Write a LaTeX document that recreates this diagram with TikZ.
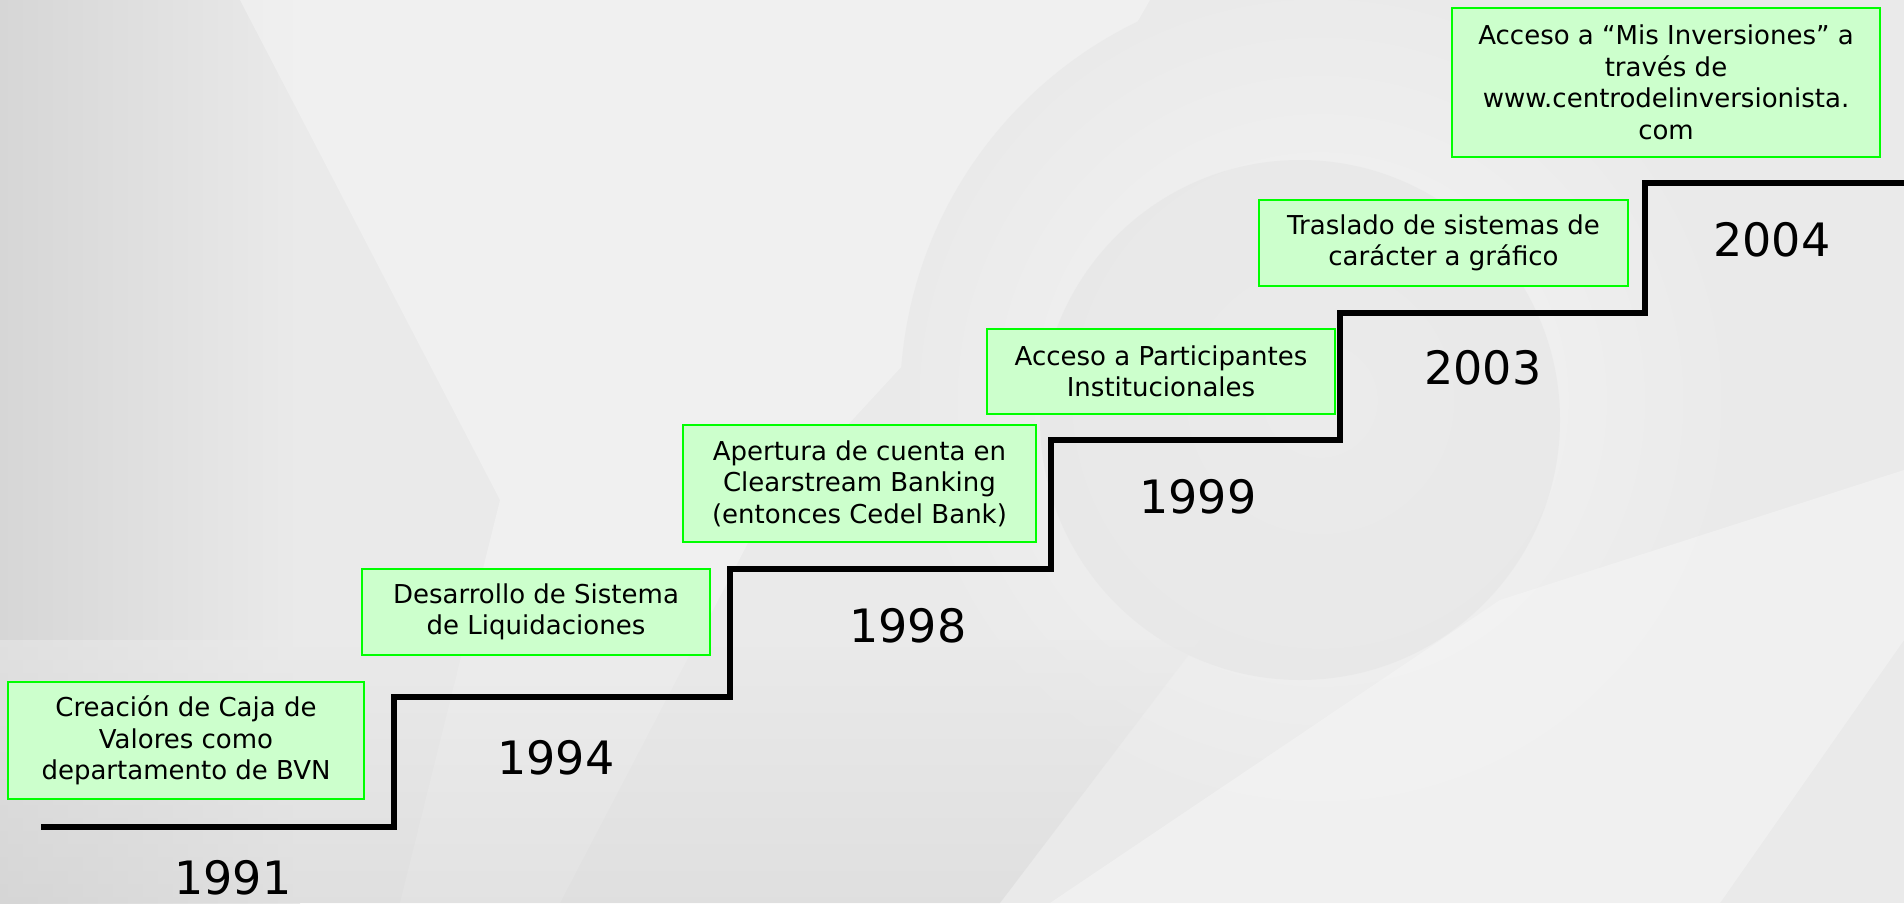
\documentclass[tikz,border=0pt]{standalone}
\usepackage{fontspec}
\setmainfont{DejaVu Sans}
\definecolor{bgbase}{RGB}{234,234,234}
\definecolor{bgdark}{RGB}{214,214,214}
\definecolor{bgcirc}{RGB}{229,229,229}
\definecolor{bglight}{RGB}{245,245,245}
\definecolor{boxfill}{RGB}{204,255,204}
\definecolor{boxline}{RGB}{0,255,0}
\tikzset{
  evbox/.style={draw=boxline, fill=boxfill, line width=2.5pt, rectangle,
    inner sep=0pt, align=center, text=black,
    font=\fontsize{26}{31.5}\selectfont},
  yearlabel/.style={inner sep=0pt, text=black, font=\fontsize{46}{50}\selectfont},
  stair/.style={line width=5.5pt, line join=miter, black}
}
\begin{document}
\begin{tikzpicture}[x=1pt,y=-1pt]
\useasboundingbox (0,0) rectangle (1904,903);
% background
\fill[bgbase] (0,0) rectangle (1904,903);
\shade[left color=bgdark, right color=bgbase] (0,0) rectangle (300,903);
\fill[bglight, opacity=0.55] (240,0) -- (1150,0) -- (1000,260) -- (760,520) -- (560,903) -- (400,903) -- (500,500) -- cycle;
\shade[inner color=bglight, outer color=bgbase] (1320,400) circle (420);
\fill[bgcirc, opacity=0.6] (1300,420) circle (260);
\shade[top color=bgbase, bottom color=bgdark, opacity=0.5] (0,640) -- (1200,640) -- (1000,903) -- (0,903) -- cycle;
\fill[bglight, opacity=0.6] (1050,903) -- (1500,600) -- (1904,470) -- (1904,640) -- (1720,903) -- cycle;
% staircase
\coordinate (s0) at (41,827);
\coordinate (s1) at (394,827);
\coordinate (s2) at (394,697);
\coordinate (s3) at (730,697);
\coordinate (s4) at (730,569);
\coordinate (s5) at (1051,569);
\coordinate (s6) at (1051,440);
\coordinate (s7) at (1340,440);
\coordinate (s8) at (1340,313);
\coordinate (s9) at (1645,313);
\coordinate (s10) at (1645,183);
\coordinate (s11) at (1904,183);
\draw[stair] (s0) -- (s1) -- (s2) -- (s3) -- (s4) -- (s5) -- (s6) -- (s7) -- (s8) -- (s9) -- (s10) -- (s11);
% event boxes
\node[evbox, minimum width=356pt, minimum height=117pt] (b1) at (186,740.5)
  {Creación de Caja de\\Valores como\\departamento de BVN};
\node[evbox, minimum width=348pt, minimum height=86pt] (b2) at (536,612)
  {Desarrollo de Sistema\\de Liquidaciones};
\node[evbox, minimum width=353pt, minimum height=117pt] (b3) at (859.5,483.5)
  {Apertura de cuenta en\\Clearstream Banking\\(entonces Cedel Bank)};
\node[evbox, minimum width=348pt, minimum height=85pt] (b4) at (1161,371.5)
  {Acceso a Participantes\\Institucionales};
\node[evbox, minimum width=369pt, minimum height=86pt] (b5) at (1443.5,243)
  {Traslado de sistemas de\\carácter a gráfico};
\node[evbox, minimum width=428pt, minimum height=149pt] (b6) at (1666,82.5)
  {Acceso a “Mis Inversiones” a\\través de\\www.centrodelinversionista.\\com};
% years
\node[yearlabel] (y1991) at (233,878) {1991};
\node[yearlabel] (y1994) at (556,758) {1994};
\node[yearlabel] (y1998) at (908,626) {1998};
\node[yearlabel] (y1999) at (1198,497) {1999};
\node[yearlabel] (y2003) at (1483,368) {2003};
\node[yearlabel] (y2004) at (1772,240) {2004};
\end{tikzpicture}
\end{document}
